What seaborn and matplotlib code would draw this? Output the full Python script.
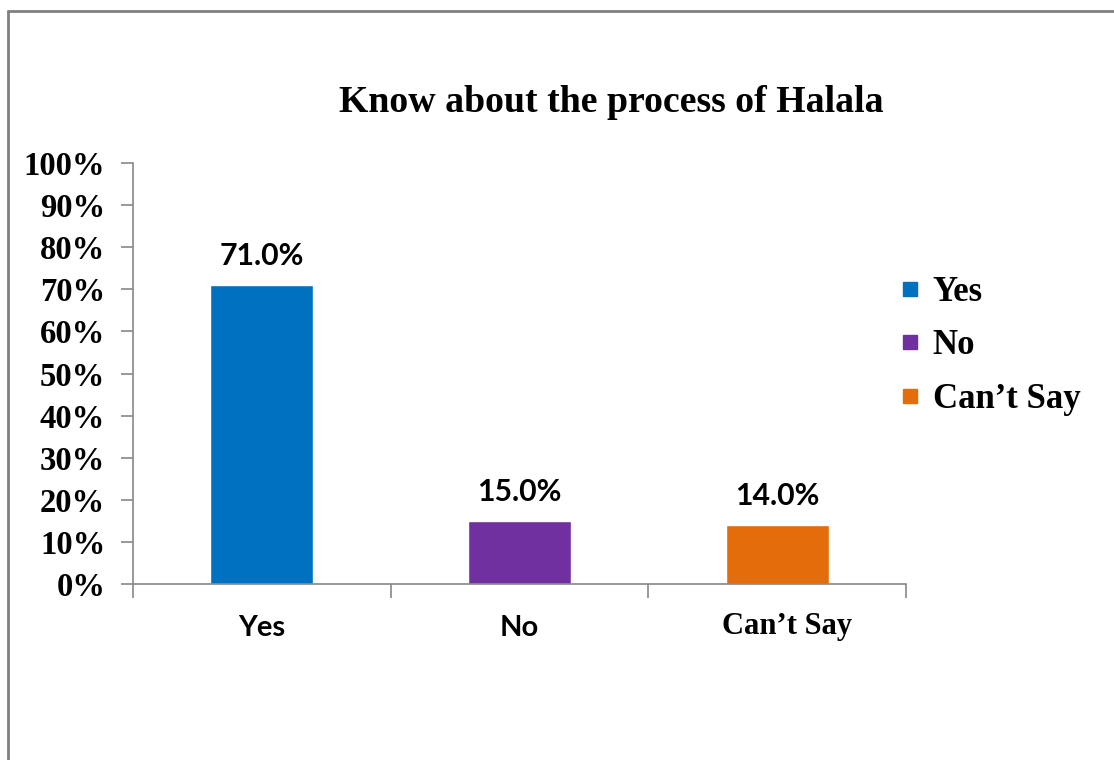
import matplotlib
matplotlib.use("Agg")
import matplotlib.pyplot as plt
from matplotlib.lines import Line2D
from matplotlib.transforms import offset_copy
import seaborn as sns
import pandas as pd
import numpy as np

categories = ["Yes", "No", "Can\u2019t Say"]
values = [71.0, 15.0, 14.0]
colors = ["#0070C0", "#7030A0", "#E46C0A"]
yticks = [0, 10, 20, 30, 40, 50, 60, 70, 80, 90, 100]
title = "Know about the process of Halala"

sns.set_theme(style="white")
plt.rcParams["font.family"] = ["Liberation Serif", "DejaVu Serif"]
plt.rcParams["text.color"] = "black"
plt.rcParams["xtick.color"] = "black"
plt.rcParams["ytick.color"] = "black"

df = pd.DataFrame({"category": categories, "value": values})

fig = plt.figure(figsize=(11.14, 7.6), dpi=100)
ax = fig.add_axes([133 / 1114, 1 - 584 / 760, (906 - 133) / 1114, (584 - 163) / 760])

sns.barplot(data=df, x="category", y="value", hue="category", order=categories,
            hue_order=categories, palette=colors, width=0.4, legend=False,
            saturation=1, ax=ax)

ax.set_xlim(-0.5, len(categories) - 0.5)
ax.set_ylim(0, 100)
ax.set_yticks(yticks)
ax.set_yticklabels([f"{v}%" for v in yticks], fontsize=23.5, fontweight="bold",
                   family="Liberation Serif", color="black")
ax.set_xlabel("")
ax.set_ylabel("")

# category boundary ticks on x axis
ax.set_xticks(np.arange(len(categories)))
ax.set_xticks(np.arange(-0.5, len(categories)), minor=True)
ax.tick_params(axis="x", which="major", length=0, pad=22)
ax.tick_params(axis="x", which="minor", length=10, width=1.2, color="#888888",
               direction="out", bottom=True)
ax.tick_params(axis="y", which="major", length=9, width=1.2, color="#888888",
               direction="out", left=True, pad=11)
ax.set_xticklabels(categories)
for lbl, txt in zip(ax.get_xticklabels(), categories):
    lbl.set_fontweight("bold")
    lbl.set_color("black")
    if "Say" in txt:
        lbl.set_family("Liberation Serif")
        lbl.set_fontsize(22)
        lbl.set_transform(offset_copy(lbl.get_transform(), fig=fig, x=10, y=3,
                                      units="dots"))
    else:
        lbl.set_family("Lato")
        lbl.set_fontsize(21)

for s in ["top", "right"]:
    ax.spines[s].set_visible(False)
for s in ["left", "bottom"]:
    ax.spines[s].set_color("#888888")
    ax.spines[s].set_linewidth(1.2)

for i, v in enumerate(values):
    ax.text(i, v + 3.5, f"{v:.1f}%", ha="center", va="bottom", fontsize=21.8,
            fontweight="bold", family="Lato", color="black")

fig.text(611 / 1114, 1 - 103 / 760, title, ha="center", va="center",
         fontsize=27.2, fontweight="bold", family="Liberation Serif", color="black")

handles = [Line2D([0], [0], marker="s", linestyle="none", markersize=10.5,
                  markerfacecolor=c, markeredgecolor=c) for c in colors]
leg = fig.legend(handles, categories, loc="center left",
                 bbox_to_anchor=(865 / 1114, 1 - 346 / 760), frameon=False,
                 prop={"family": "Liberation Serif", "weight": "bold", "size": 25},
                 handlelength=0.8, handletextpad=0.25, labelspacing=0.59)
for t in leg.get_texts():
    t.set_color("black")

# outer chart border (left and top)
fig.add_artist(Line2D([8 / 1114, 8 / 1114], [0, 1 - 11 / 760],
                      transform=fig.transFigure, color="#808080", lw=2))
fig.add_artist(Line2D([8 / 1114, 1], [1 - 11 / 760, 1 - 11 / 760],
                      transform=fig.transFigure, color="#808080", lw=2))

fig.savefig("out.png", dpi=100, facecolor="white")
